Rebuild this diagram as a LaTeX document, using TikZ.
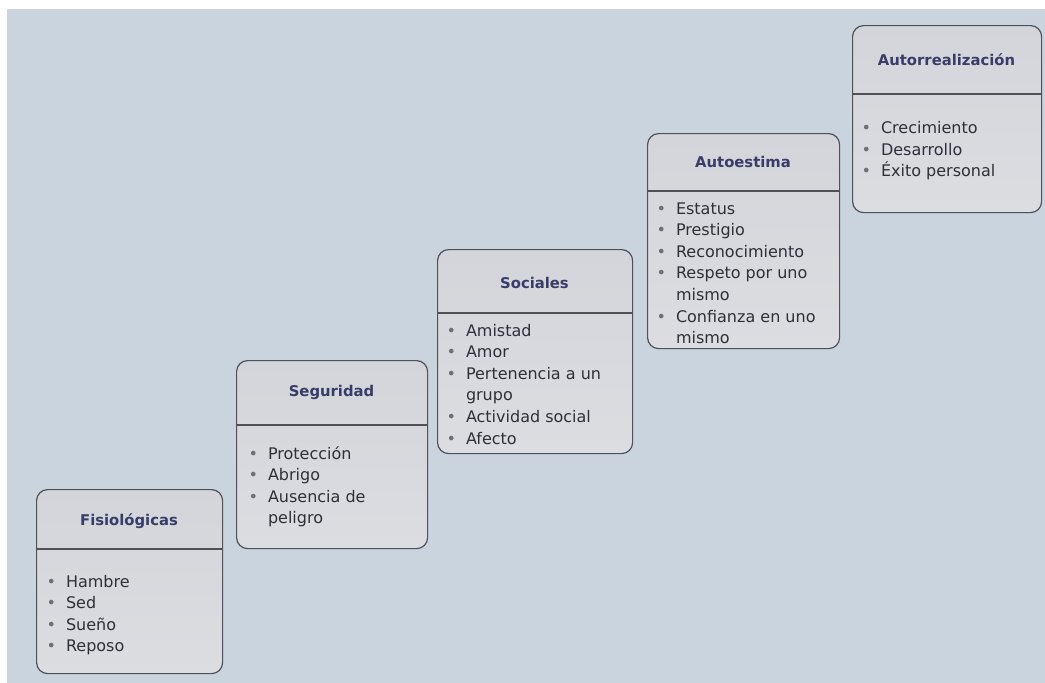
\documentclass[tikz,border=0pt]{standalone}
\usepackage{fontspec}
\setmainfont{DejaVu Sans}

\definecolor{paper}{RGB}{202,212,223}
\definecolor{frame}{RGB}{80,80,86}
\definecolor{titleink}{RGB}{56,60,104}
\definecolor{ink}{RGB}{46,48,56}
\definecolor{dot}{RGB}{108,112,120}
\definecolor{paneltop}{RGB}{212,213,218}
\definecolor{panelmid}{RGB}{242,242,243}
\definecolor{panelbot}{RGB}{220,221,225}

% bullet cell of a list row
\newcommand\itm{\makebox[19.5pt][l]{\textcolor{dot}{\textbullet}}}

\begin{document}
\begin{tikzpicture}[x=1pt,y=-1pt,
  panel/.style={draw=frame, line width=1.2pt, rounded corners=11pt,
    top color=paneltop, middle color=panelmid, bottom color=panelbot,
    anchor=north west, inner sep=0pt},
  rule/.style={draw=frame, line width=1.1pt},
  heading/.style={font=\fontsize{14.8}{16}\selectfont\bfseries, text=titleink,
    anchor=base, inner sep=0pt},
  list/.style={font=\fontsize{16}{21.6}\selectfont, text=ink,
    anchor=base west, inner sep=0pt},
]
\useasboundingbox (0,0) rectangle (1045,683);
\fill[white] (0,0) rectangle (1045,683);
\fill[paper] (7,9) rectangle (1045,683);

% Level 1: Fisiologicas
\node[panel, minimum width=186pt, minimum height=184pt] (fis) at (36,489) {};
\draw[rule] (36,549) -- (222,549);
\node[heading] (fisT) at (129,525) {Fisiológicas};
\node[list] (fisL) at (46.3,587) {\begin{tabular}[t]{@{}l@{}l@{}}
\itm & Hambre\\ \itm & Sed\\ \itm & Sueño\\ \itm & Reposo
\end{tabular}};

% Level 2: Seguridad
\node[panel, minimum width=191pt, minimum height=188pt] (seg) at (236,360) {};
\draw[rule] (236,425) -- (427,425);
\node[heading] (segT) at (331.5,396.5) {Seguridad};
\node[list] (segL) at (248.3,459) {\begin{tabular}[t]{@{}l@{}l@{}}
\itm & Protección\\ \itm & Abrigo\\ \itm & Ausencia de\\ & peligro
\end{tabular}};

% Level 3: Sociales
\node[panel, minimum width=195pt, minimum height=204pt] (soc) at (437,249) {};
\draw[rule] (437,313) -- (632,313);
\node[heading] (socT) at (534.5,288.3) {Sociales};
\node[list] (socL) at (446.3,336) {\begin{tabular}[t]{@{}l@{}l@{}}
\itm & Amistad\\ \itm & Amor\\ \itm & Pertenencia a un\\ & grupo\\
\itm & Actividad social\\ \itm & Afecto
\end{tabular}};

% Level 4: Autoestima
\node[panel, minimum width=192pt, minimum height=215pt] (aut) at (647,133) {};
\draw[rule] (647,191) -- (839,191);
\node[heading] (autT) at (743,167.7) {Autoestima};
\node[list] (autL) at (656.3,214) {\begin{tabular}[t]{@{}l@{}l@{}}
\itm & Estatus\\ \itm & Prestigio\\ \itm & Reconocimiento\\
\itm & Respeto por uno\\ & mismo\\ \itm & Confianza en uno\\ & mismo
\end{tabular}};

% Level 5: Autorrealizacion
\node[panel, minimum width=189pt, minimum height=187pt] (rea) at (852,25) {};
\draw[rule] (852,94) -- (1041,94);
\node[heading] (reaT) at (946.5,65) {Autorrealización};
\node[list] (reaL) at (861.3,133.5) {\begin{tabular}[t]{@{}l@{}l@{}}
\itm & Crecimiento\\ \itm & Desarrollo\\ \itm & Éxito personal
\end{tabular}};
\end{tikzpicture}
\end{document}
